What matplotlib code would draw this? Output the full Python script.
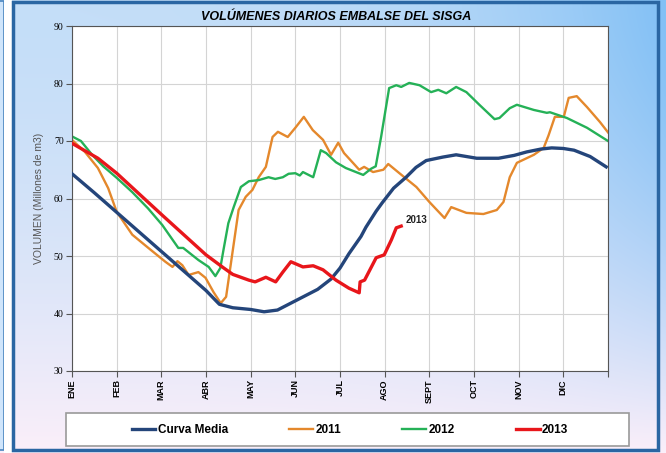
import numpy as np
import matplotlib.pyplot as plt
from matplotlib.patches import Rectangle

# eje x en meses (0 = ENE ... 12 = fin de DIC)
meses = ['ENE', 'FEB', 'MAR', 'ABR', 'MAY', 'JUN', 'JUL', 'AGO', 'SEPT', 'OCT', 'NOV', 'DIC', '']

media_x = [0, 0.5, 1.0, 1.5, 2.0, 2.5, 3.0, 3.3, 3.6, 4.0, 4.3, 4.6, 5.0, 5.5, 5.8, 6.0, 6.2,
           6.47, 6.58, 6.81, 6.94, 7.2, 7.48, 7.7, 7.93, 8.3, 8.6, 9.06, 9.55, 9.9, 10.18, 10.5,
           10.74, 11.0, 11.24, 11.6, 11.96]
media_y = [64.3, 61.0, 57.6, 54.2, 50.8, 47.4, 44.0, 41.6, 41.0, 40.7, 40.3, 40.6, 42.2, 44.2,
           46.0, 47.9, 50.4, 53.4, 55.0, 57.8, 59.2, 61.8, 63.7, 65.4, 66.6, 67.2, 67.6, 67.0,
           67.0, 67.5, 68.1, 68.6, 68.8, 68.7, 68.4, 67.3, 65.5]

y2011_x = [0, 0.29, 0.58, 0.81, 1.0, 1.35, 1.71, 2.09, 2.25, 2.36, 2.47, 2.61, 2.83, 2.99, 3.17,
           3.33, 3.45, 3.6, 3.73, 3.89, 4.04, 4.18, 4.34, 4.49, 4.61, 4.83, 5.0, 5.19, 5.39, 5.62,
           5.8, 5.96, 6.09, 6.29, 6.43, 6.54, 6.74, 6.97, 7.08, 7.33, 7.71, 8.0, 8.34, 8.49, 8.83,
           9.21, 9.51, 9.66, 9.8, 9.96, 10.34, 10.56, 10.67, 10.81, 11.01, 11.12, 11.3, 11.53,
           11.82, 12.0]
y2011_y = [70.2, 68.1, 65.3, 61.8, 57.7, 53.7, 51.4, 49.0, 48.1, 49.1, 48.4, 46.7, 47.2, 46.2, 43.7,
           41.8, 42.9, 51.0, 58.0, 60.3, 61.5, 63.7, 65.5, 70.7, 71.6, 70.7, 72.3, 74.2, 71.9, 70.2,
           67.6, 69.7, 67.9, 66.2, 65.0, 65.5, 64.6, 65.0, 66.0, 64.4, 62.0, 59.4, 56.6, 58.5, 57.5,
           57.3, 58.0, 59.4, 63.7, 66.2, 67.6, 68.8, 71.0, 74.2, 74.2, 77.5, 77.8, 75.9, 73.3, 71.5]

y2012_x = [0, 0.2, 0.45, 0.7, 1.0, 1.35, 1.7, 2.02, 2.38, 2.49, 2.83, 3.06, 3.21, 3.32, 3.39, 3.5,
           3.62, 3.78, 3.96, 4.18, 4.4, 4.55, 4.72, 4.85, 5.0, 5.1, 5.17, 5.4, 5.57, 5.69, 5.91,
           6.13, 6.52, 6.7, 6.8, 6.92, 7.03, 7.1, 7.26, 7.37, 7.55, 7.78, 8.04, 8.2, 8.38, 8.6,
           8.83, 9.12, 9.46, 9.57, 9.8, 9.96, 10.34, 10.63, 10.7, 11.08, 11.53, 12.0]
y2012_y = [70.8, 70.0, 67.6, 65.6, 63.6, 61.1, 58.3, 55.4, 51.4, 51.4, 49.3, 48.1, 46.5, 47.9, 51.0,
           55.7, 58.5, 62.0, 63.0, 63.2, 63.7, 63.4, 63.7, 64.3, 64.4, 64.0, 64.6, 63.7, 68.4, 67.9,
           66.3, 65.3, 64.1, 65.2, 65.6, 70.7, 75.9, 79.2, 79.7, 79.4, 80.1, 79.7, 78.5, 78.9, 78.3,
           79.4, 78.5, 76.3, 73.8, 74.0, 75.7, 76.3, 75.4, 74.9, 75.0, 74.0, 72.3, 70.0]

y2013_x = [0, 0.58, 1.0, 2.02, 3.0, 3.4, 3.6, 3.96, 4.1, 4.34, 4.56, 4.72, 4.9, 5.17, 5.4, 5.62,
           5.91, 6.2, 6.43, 6.45, 6.55, 6.81, 6.99, 7.15, 7.26, 7.37]
y2013_y = [69.6, 67.0, 64.4, 57.1, 50.2, 47.9, 46.8, 45.8, 45.5, 46.3, 45.5, 47.2, 49.0, 48.1, 48.3,
           47.6, 45.8, 44.4, 43.6, 45.5, 45.8, 49.7, 50.2, 52.8, 54.9, 55.2]

W, H = 666, 453
fig = plt.figure(figsize=(W / 100, H / 100), dpi=100)
sans = ['Liberation Sans', 'DejaVu Sans']

# fondo degradado del recuadro
bg = fig.add_axes([0, 0, 1, 1], zorder=-1)
xx = np.linspace(0, 1, W)[None, :, None]
yy = np.linspace(0, 1, H)[:, None, None]
left_top = np.array([196, 222, 248]) / 255
right_top = np.array([130, 192, 245]) / 255
bottom = np.array([251, 239, 250]) / 255
top_col = left_top + (right_top - left_top) * xx ** 3
grad = top_col + (bottom - top_col) * yy ** 1.6
bg.imshow(np.clip(grad, 0, 1), extent=(0, W, H, 0), aspect='auto')
bg.add_patch(Rectangle((-6, 1), 9.5, 449, facecolor='#cfe5fb', edgecolor='#4a86c0', lw=1.2))
bg.add_patch(Rectangle((3.5, 0), 8, H, facecolor='white', edgecolor='none'))
bg.add_patch(Rectangle((13, 2), 645, 448, facecolor='none', edgecolor='#2a66a3', lw=2.5))
bg.add_patch(Rectangle((66, 413), 563, 33, facecolor='white', edgecolor='#9a9a9a', lw=1.2))
bg.set_xlim(0, W)
bg.set_ylim(H, 0)
bg.axis('off')

ax = fig.add_axes([72 / W, 1 - 371 / H, 536 / W, 345 / H])
ax.set_facecolor('white')
l1, = ax.plot(media_x, media_y, color='#24457a', lw=2.4, label='Curva Media', zorder=3)
l2, = ax.plot(y2011_x, y2011_y, color='#e4882c', lw=1.7, label='2011', zorder=2)
l3, = ax.plot(y2012_x, y2012_y, color='#25b157', lw=1.7, label='2012', zorder=2)
l4, = ax.plot(y2013_x, y2013_y, color='#e8161b', lw=2.4, label='2013', zorder=4)
ax.annotate('2013', (y2013_x[-1], y2013_y[-1]), xytext=(3, 2), textcoords='offset points',
            fontsize=7, fontweight='bold', color='#222222', family=sans)

ax.set_xlim(0, 12)
ax.set_ylim(30, 90)
ax.set_xticks(range(13))
ax.set_xticklabels(meses, rotation=90, fontsize=6.5, fontweight='bold', family=sans)
ax.set_yticks(range(30, 91, 10))
ax.set_yticklabels([str(v) for v in range(30, 91, 10)], fontsize=7,
                   family=['Liberation Serif', 'DejaVu Serif'])
ax.tick_params(length=4, width=0.8, color='#555555', pad=2)
ax.grid(True, color='#d4d4d4', lw=0.8)
ax.set_axisbelow(True)
for s in ax.spines.values():
    s.set_color('#555555')
    s.set_linewidth(0.8)
ax.set_ylabel('VOLUMEN (Millones de m3)', fontsize=7.5, color='#555555', labelpad=7,
              family=sans)

fig.text(336 / W, 1 - 17 / H, 'VOLÚMENES DIARIOS EMBALSE DEL SISGA', ha='center', va='center',
         fontsize=9, fontweight='bold', style='italic', family=sans)

fig.legend(handles=[l1, l2, l3, l4], loc='center', bbox_to_anchor=(350 / W, 1 - 430 / H),
           ncol=4, frameon=False, handlelength=2.0, handletextpad=0.2, columnspacing=5.2,
           prop={'family': sans, 'weight': 'bold', 'size': 8.5})

fig.savefig('out.png', dpi=100)
